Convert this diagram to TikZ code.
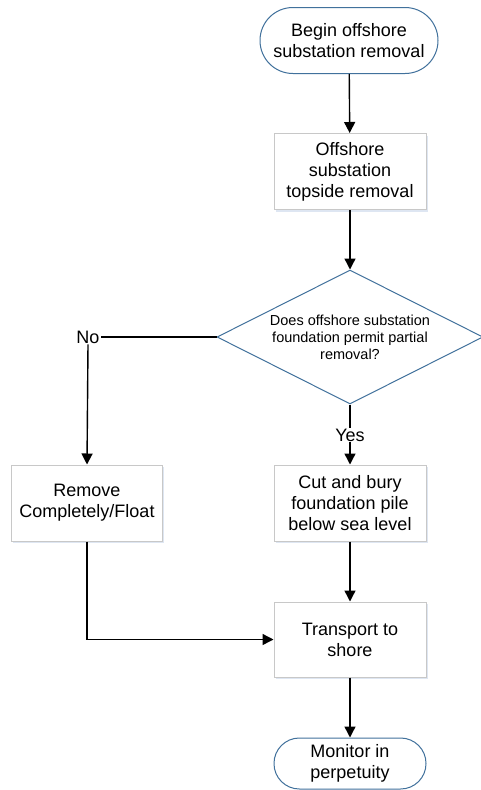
\documentclass[tikz,border=0pt]{standalone}
\usepackage{fontspec}
\setmainfont{Liberation Sans}
\usetikzlibrary{shapes.geometric,arrows.meta,shadows}
\definecolor{bblue}{RGB}{65,113,156}
\definecolor{bgray}{RGB}{200,200,200}
\definecolor{shade}{RGB}{222,230,242}
\begin{document}
\begin{tikzpicture}[x=1pt,y=-1pt,
  base/.style={font=\fontsize{18}{21}\selectfont, align=center, inner sep=0pt, fill=white},
  proc/.style={base, draw=bgray, line width=1pt, minimum width=152pt, minimum height=76pt,
    drop shadow={shadow xshift=1.5pt, shadow yshift=-2pt, fill=shade, opacity=1}},
  term/.style={base, draw=bblue, line width=1pt},
  decis/.style={diamond, draw=bblue, line width=1pt, fill=white, inner sep=0pt, align=center,
    font=\fontsize{14.5}{17}\selectfont, minimum width=266pt, minimum height=134pt, aspect=2},
  arr/.style={-{Triangle[length=11pt,width=11pt]}, line width=1.4pt},
  ln/.style={line width=1.4pt},
  lbl/.style={font=\fontsize{18}{20}\selectfont, inner sep=1pt}]
\useasboundingbox (0,0) rectangle (481,790);
\node[term, minimum width=178pt, minimum height=66pt, rounded corners=32.9pt] (begin) at (349,40.5) {Begin offshore\\substation removal};
\node[proc] (top) at (350,171.5) {Offshore\\substation\\topside removal};
\node[decis] (dec) at (350,337) {Does offshore substation\\foundation permit partial\\removal?};
\node[proc, minimum width=151pt] (remove) at (87,503) {Remove\\Completely/Float};
\node[proc] (cut) at (350,503) {Cut and bury\\foundation pile\\below sea level};
\node[proc, minimum height=75pt] (trans) at (350,639.5) {Transport to\\shore};
\node[term, minimum width=152pt, minimum height=51pt, rounded corners=25.4pt] (mon) at (350,763.5) {Monitor in\\perpetuity};
\node[lbl] (no) at (88,337) {No};
\node[lbl] (yes) at (350,435) {Yes};
\draw[arr] (begin) -- (top);
\draw[arr] (top) -- (dec.north);
\draw[ln] (dec.west) -- (no.east);
\draw[arr] (no.south) -- (remove.north);
\draw[ln] (dec.south) -- (yes.north);
\draw[arr] (yes.south) -- (cut.north);
\draw[arr] (cut) -- (trans);
\draw[arr] (remove.south) |- (trans.west);
\draw[arr] (trans) -- (mon);
\end{tikzpicture}
\end{document}
